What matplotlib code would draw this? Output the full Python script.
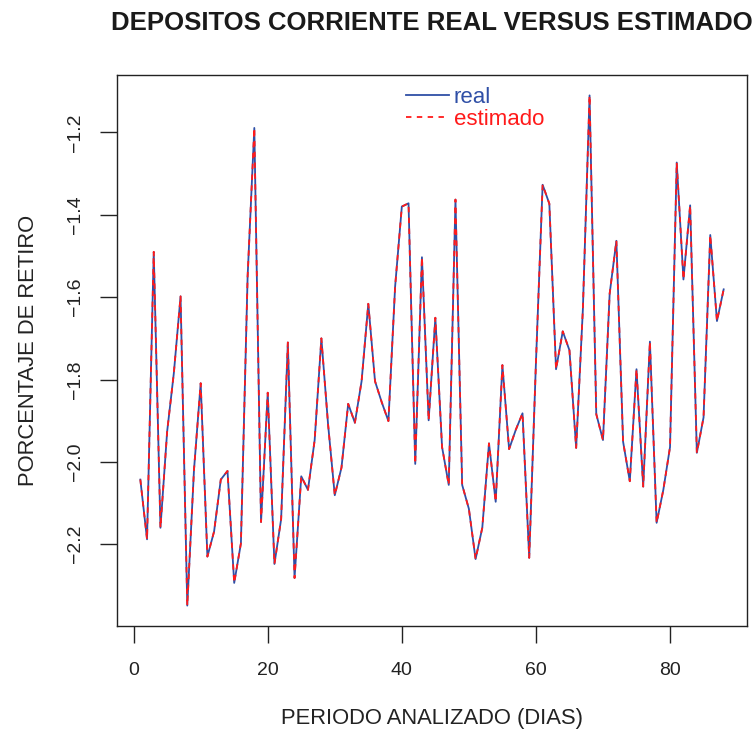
import matplotlib
matplotlib.use("Agg")
import matplotlib.pyplot as plt
import numpy as np

plt.rcParams['font.family'] = ['Liberation Sans', 'DejaVu Sans']

# Daily withdrawal percentage over the analysed period
dias = list(range(1, 89))
real = [
    -2.043, -2.188, -1.490, -2.160, -1.926, -1.784, -1.598, -2.349, -2.020, -1.809,
    -2.230, -2.169, -2.043, -2.022, -2.294, -2.198, -1.550, -1.189, -2.146, -1.832,
    -2.248, -2.139, -1.710, -2.282, -2.035, -2.068, -1.947, -1.700, -1.909, -2.081,
    -2.014, -1.859, -1.905, -1.804, -1.616, -1.804, -1.855, -1.901, -1.574, -1.380,
    -1.372, -2.005, -1.503, -1.899, -1.650, -1.964, -2.056, -1.363, -2.056, -2.114,
    -2.236, -2.160, -1.955, -2.097, -1.765, -1.969, -1.922, -1.882, -2.233, -1.760,
    -1.327, -1.373, -1.775, -1.683, -1.729, -1.966, -1.630, -1.110, -1.884, -1.947,
    -1.591, -1.463, -1.951, -2.047, -1.775, -2.060, -1.708, -2.148, -2.068, -1.964,
    -1.273, -1.557, -1.377, -1.978, -1.892, -1.449, -1.658, -1.581,
]
estimado = list(real)

x_ticks = [0, 20, 40, 60, 80]
y_ticks = [-2.2, -2.0, -1.8, -1.6, -1.4, -1.2]
y_ticklabels = ["\u22122.2", "\u22122.0", "\u22121.8", "\u22121.6", "\u22121.4", "\u22121.2"]

fig = plt.figure(figsize=(7.55, 7.34), dpi=100)
ax = fig.add_axes([117 / 755, 1 - 626 / 734, 630 / 755, 551 / 734])

blue = "#2f4fa6"
red = "#ff1a1a"
ax.plot(dias, real, color=blue, lw=1.3, label="real")
ax.plot(dias, estimado, color=red, lw=1.3, ls=(0, (3, 3)), label="estimado")

# R-style 4% padding of the data range
xr = max(dias) - min(dias)
ax.set_xlim(min(dias) - 0.04 * xr, max(dias) + 0.04 * xr)
yr = max(real) - min(real)
ax.set_ylim(min(real) - 0.04 * yr, max(real) + 0.04 * yr)

ax.set_xticks(x_ticks)
ax.set_xticklabels([str(v) for v in x_ticks])
ax.set_yticks(y_ticks)
ax.set_yticklabels(y_ticklabels, rotation=90, va="center")

ax.tick_params(axis="both", direction="out", length=12, width=1, colors="#222222",
               labelsize=14, labelcolor="#222222")
ax.tick_params(axis="x", pad=14)
ax.tick_params(axis="y", pad=12)
for s in ax.spines.values():
    s.set_color("#222222")
    s.set_linewidth(1.0)

ax.set_xlabel("PERIODO ANALIZADO (DIAS)", fontsize=15.8, color="#222222", labelpad=21)
ax.set_ylabel("PORCENTAJE DE RETIRO", fontsize=15.8, color="#222222", labelpad=20)

fig.text(432 / 755, 1 - 23 / 734, "DEPOSITOS CORRIENTE REAL VERSUS ESTIMADO",
         ha="center", va="center", fontsize=18.5, fontweight="bold", color="#1a1a1a")

leg = ax.legend(loc="upper left", bbox_to_anchor=(406 / 755, 1 - 87 / 734),
                bbox_transform=fig.transFigure, frameon=False, fontsize=16,
                handlelength=1.95, handletextpad=0.2, labelspacing=0.05,
                borderpad=0, borderaxespad=0)
for txt, c in zip(leg.get_texts(), [blue, red]):
    txt.set_color(c)

fig.savefig("out.png", dpi=100)
